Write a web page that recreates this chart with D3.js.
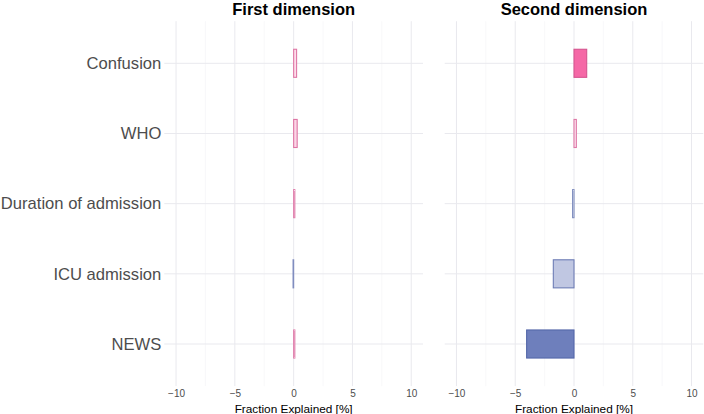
<!DOCTYPE html>
<html><head><meta charset="utf-8">
<script src="https://cdn.jsdelivr.net/npm/d3@7"></script>
<style>body{margin:0;background:#fff}svg{display:block;font-family:"Liberation Sans",Arial,sans-serif}</style>
</head><body><svg id="c" width="704" height="414"></svg>
<script>
const categories = ["Confusion","WHO","Duration of admission","ICU admission","NEWS"];
const panels = ["First dimension","Second dimension"];
const firstDim = [0.25, 0.3, 0.1, -0.05, 0.1];
const secondDim = [1.08, 0.2, -0.12, -1.76, -4.03];
const xTicks = [-10,-5,0,5,10];
const xMinor = [-7.5,-2.5,2.5,7.5];
const series = [firstDim, secondDim];

(function(){
const svg = d3.select("#c");
const panelX = [[164.3,423],[444.7,703.3]];
const y = d3.scalePoint().domain(categories).range([63.3,344]);
const step = y.step();
const yTop = y(categories[0]) - 0.6*step, yBottom = y(categories[categories.length-1]) + 0.6*step;
const barH = 0.4*step;

const posCol = d3.scaleLinear().domain([0,1.2]).range(["#ffffff","#f4579c"]).clamp(true);
const negCol = d3.scaleLinear().domain([-4.5,0]).range(["#5d70b4","#ffffff"]).clamp(true);
function fill(v){return v>=0?posCol(v):negCol(v);}
function stroke(v){
  const base = v>=0?"#d4508c":"#4f62a6";
  const f = v>=0?Math.min(1,v/1.2):Math.min(1,-v/4.5);
  return d3.interpolateRgb("#ffffff",base)(0.72+0.28*f);
}
const fmt = d => (d<0?"\u2212"+Math.abs(d):String(d));

panels.forEach((title,pi)=>{
  const x = d3.scaleLinear().domain([-11,11]).range(panelX[pi]);
  const g = svg.append("g");
  g.selectAll(".minor").data(xMinor).join("line")
    .attr("x1",d=>x(d)).attr("x2",d=>x(d)).attr("y1",yTop).attr("y2",yBottom)
    .attr("stroke","#f3f3f6").attr("stroke-width",0.6);
  g.selectAll(".major").data(xTicks).join("line")
    .attr("x1",d=>x(d)).attr("x2",d=>x(d)).attr("y1",yTop).attr("y2",yBottom)
    .attr("stroke","#e9e9ee").attr("stroke-width",1);
  g.selectAll(".hgrid").data(categories).join("line")
    .attr("x1",panelX[pi][0]).attr("x2",panelX[pi][1]).attr("y1",d=>y(d)).attr("y2",d=>y(d))
    .attr("stroke","#e9e9ee").attr("stroke-width",1);
  const vals = series[pi];
  g.selectAll(".bar").data(categories).join("rect")
    .attr("x",(d,i)=>Math.min(x(0),x(vals[i])))
    .attr("width",(d,i)=>Math.abs(x(vals[i])-x(0)))
    .attr("y",d=>y(d)-barH/2).attr("height",barH)
    .attr("fill",(d,i)=>fill(vals[i]))
    .attr("stroke",(d,i)=>stroke(vals[i])).attr("stroke-width",1.1);
  const ax = g.append("g").attr("transform",`translate(0,${yBottom})`)
    .call(d3.axisBottom(x).tickValues(xTicks).tickSize(0).tickPadding(4).tickFormat(fmt));
  ax.select(".domain").remove();
  ax.selectAll("text").attr("font-size",10).attr("fill","#4d4d4d").attr("font-family","Liberation Sans, Arial, sans-serif");
  g.append("text").attr("x",x(0)).attr("y",412.5).attr("text-anchor","middle")
    .attr("font-size",11.8).attr("fill","#000").text("Fraction Explained [%]");
  g.append("text").attr("x",x(0)).attr("y",14.5).attr("text-anchor","middle")
    .attr("font-size",16.5).attr("font-weight","bold").attr("fill","#000").text(title);
});
const ay = svg.append("g").attr("transform",`translate(${panelX[0][0]},0)`)
  .call(d3.axisLeft(y).tickSize(0).tickPadding(3));
ay.select(".domain").remove();
ay.selectAll("text").attr("font-size",16.6).attr("fill","#4d4d4d").attr("font-family","Liberation Sans, Arial, sans-serif");
})();
</script></body></html>
